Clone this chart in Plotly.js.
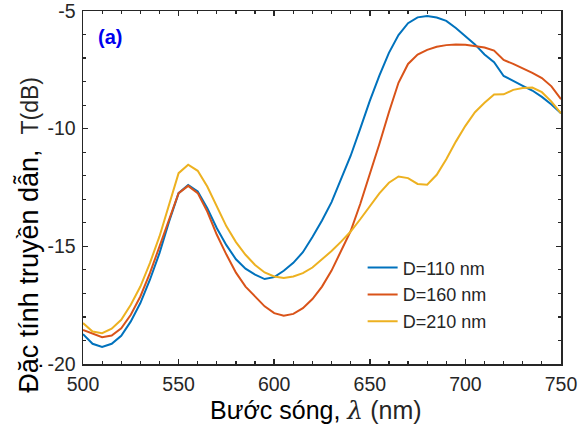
<!DOCTYPE html>
<html>
<head>
<meta charset="utf-8">
<script src="https://cdn.plot.ly/plotly-3.0.1.min.js"></script>
<style>html,body{margin:0;padding:0;background:#fff;}#chart{width:585px;height:430px;}</style>
</head>
<body>
<div id="chart"></div>
<script>
const wavelength = [500,505,510,515,520,525,530,535,540,545,550,555,560,565,570,575,580,585,590,595,600,605,610,615,620,625,630,635,640,645,650,655,660,665,670,675,680,685,690,695,700,705,710,715,720,725,730,735,740,745,750];

const T_D110 = [-18.73,-19.14,-19.28,-19.14,-18.80,-18.19,-17.41,-16.42,-15.29,-13.95,-12.74,-12.39,-12.67,-13.38,-14.23,-14.95,-15.55,-15.95,-16.20,-16.39,-16.31,-16.04,-15.70,-15.25,-14.60,-13.90,-13.12,-12.14,-11.15,-10.00,-8.82,-7.75,-6.78,-6.02,-5.52,-5.27,-5.21,-5.28,-5.42,-5.72,-6.05,-6.42,-6.85,-7.18,-7.76,-7.98,-8.18,-8.38,-8.65,-8.97,-9.35];

const T_D160 = [-18.55,-18.72,-18.86,-18.79,-18.48,-17.91,-17.13,-16.14,-15.01,-13.80,-12.74,-12.43,-12.74,-13.52,-14.51,-15.35,-16.12,-16.71,-17.13,-17.55,-17.84,-17.95,-17.87,-17.63,-17.24,-16.71,-16.03,-15.22,-14.35,-13.20,-11.95,-10.65,-9.30,-8.05,-7.25,-6.85,-6.65,-6.52,-6.45,-6.42,-6.43,-6.48,-6.55,-6.68,-7.08,-7.25,-7.43,-7.63,-7.85,-8.20,-8.75];

const T_D210 = [-18.26,-18.62,-18.69,-18.50,-18.12,-17.48,-16.71,-15.71,-14.58,-13.25,-11.89,-11.53,-11.79,-12.46,-13.31,-14.15,-14.82,-15.36,-15.79,-16.11,-16.28,-16.35,-16.28,-16.14,-15.90,-15.57,-15.20,-14.80,-14.37,-13.85,-13.30,-12.75,-12.30,-12.03,-12.10,-12.35,-12.38,-11.96,-11.30,-10.55,-9.88,-9.30,-8.90,-8.55,-8.54,-8.35,-8.27,-8.25,-8.45,-8.85,-9.35];

const seriesNames = ['D=110 nm','D=160 nm','D=210 nm'];
const seriesColors = ['#0072BD','#D95319','#EDB120'];
const seriesValues = [T_D110, T_D160, T_D210];

const xTickVals = [500,550,600,650,700,750];
const yTickVals = [-20,-15,-10,-5];

const traces = seriesValues.map((vals, i) => ({
  x: wavelength, y: vals, type: 'scatter', mode: 'lines',
  name: seriesNames[i], legendgroup: 'g' + i,
  line: {color: seriesColors[i], width: 2}
}));

const axisCommon = {
  showgrid: false, zeroline: false, showline: true, linecolor: '#262626', linewidth: 1.5,
  mirror: 'ticks', ticks: 'inside', ticklen: 5, tickwidth: 1.5, tickcolor: '#262626',
  ticklabeloverflow: 'allow',
  tickfont: {family: 'Liberation Sans, Arial, sans-serif', size: 19.5, color: '#262626'}
};

const layout = {
  width: 585, height: 430,
  margin: {l: 82.5, r: 24, t: 11, b: 66},
  paper_bgcolor: '#ffffff', plot_bgcolor: '#ffffff',
  showlegend: true,
  legend: {
    x: 0.585, y: 0.325, xanchor: 'left', yanchor: 'top',
    bgcolor: 'rgba(0,0,0,0)', borderwidth: 0,
    font: {family: 'Liberation Sans, Arial, sans-serif', size: 18, color: '#262626'},
    tracegroupgap: 0.5, traceorder: 'grouped'
  },
  xaxis: Object.assign({}, axisCommon, {
    range: [500, 750], tickvals: xTickVals, ticktext: xTickVals.map(String),
    ticklabelstandoff: 2,
    minor: {dtick: 10, ticks: 'inside', ticklen: 3, tickwidth: 1.2, tickcolor: '#262626'}
  }),
  yaxis: Object.assign({}, axisCommon, {
    range: [-20, -5], tickvals: yTickVals, ticktext: yTickVals.map(String),
    ticklabelstandoff: 2,
    minor: {dtick: 1, ticks: 'inside', ticklen: 3, tickwidth: 1.2, tickcolor: '#262626'}
  }),
  annotations: [
    {xref: 'paper', yref: 'paper', x: 0.0575, y: 0.926, xanchor: 'center', yanchor: 'middle',
     text: '<b>(a)</b>', showarrow: false,
     font: {family: 'Liberation Sans, Arial, sans-serif', size: 20, color: '#0000EE'}},
    {xref: 'paper', yref: 'paper', x: 0.488, y: -0.132, xanchor: 'center', yanchor: 'middle',
     text: 'Bước sóng, <span style="font-family:DejaVu Serif, serif;font-style:italic;color:#262626">λ</span> <span style="color:#262626">(nm)</span>',
     showarrow: false,
     font: {family: 'Liberation Sans, Arial, sans-serif', size: 25, color: '#000000'}},
    {xref: 'paper', yref: 'paper', x: -0.114, y: 0.365, xanchor: 'center', yanchor: 'middle',
     textangle: -90,
     text: 'Đặc tính truyền dẫn,&nbsp;&nbsp;<span style="font-size:23px;color:#262626">T(dB)</span>',
     showarrow: false,
     font: {family: 'Liberation Sans, Arial, sans-serif', size: 27, color: '#000000'}}
  ]
};

Plotly.newPlot('chart', traces, layout, {displayModeBar: false, staticPlot: true});
</script>
</body>
</html>
